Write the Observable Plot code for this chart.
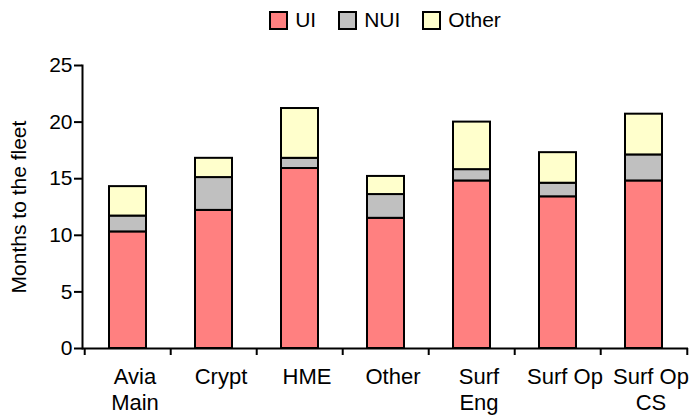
<!DOCTYPE html>
<html>
<head>
<meta charset="utf-8">
<script src="https://cdn.jsdelivr.net/npm/d3@7"></script>
<script src="https://cdn.jsdelivr.net/npm/@observablehq/plot@0.6"></script>
<style>
  body { margin: 0; background: #fff; font-family: "Liberation Sans", Arial, sans-serif; overflow: hidden; }
  #legend { height: 40px; margin-left: 82px; width: 606px; display: flex; justify-content: center; align-items: center; font-size: 21px; color: #000; }
  .item { display: flex; align-items: center; margin: 0 11px; }
  .sw { width: 15px; height: 15px; border: 2px solid #000; margin-right: 7px; }
</style>
</head>
<body>
<div id="legend"></div>
<div id="chart"></div>
<script>
const categories = ["Avia Main", "Crypt", "HME", "Other", "Surf Eng", "Surf Op", "Surf Op CS"];
const tickLabels = ["Avia\nMain", "Crypt", "HME", "Other", "Surf\nEng", "Surf Op", "Surf Op\nCS"];
const series = ["UI", "NUI", "Other"];
const colors = ["#FF8080", "#C0C0C0", "#FFFFCC"];
const uiValues    = [10.3, 12.2, 15.9, 11.5, 14.8, 13.4, 14.8];
const nuiValues   = [1.4, 2.9, 0.9, 2.1, 1.0, 1.2, 2.3];
const otherValues = [2.6, 1.7, 4.4, 1.6, 4.2, 2.7, 3.6];
const yTicks = [0, 5, 10, 15, 20, 25];

const seriesValues = [uiValues, nuiValues, otherValues];
const data = [];
categories.forEach((c, i) => {
  series.forEach((s, j) => data.push({category: c, series: s, value: seriesValues[j][i]}));
});

const width = 696, height = 377;
const marginLeft = 82, marginRight = 8;
const step = (width - marginLeft - marginRight) / categories.length;

const legend = document.getElementById("legend");
series.forEach((s, j) => {
  const it = document.createElement("div");
  it.className = "item";
  it.innerHTML = `<span class="sw" style="background:${colors[j]}"></span><span>${s}</span>`;
  legend.appendChild(it);
});

const chart = Plot.plot({
  width, height,
  marginTop: 25, marginBottom: 69, marginLeft, marginRight,
  style: {fontFamily: "'Liberation Sans', Arial, sans-serif", fontSize: "21px", color: "#000", background: "#fff", overflow: "visible"},
  x: {domain: categories, paddingInner: 0.57, paddingOuter: 0.285},
  y: {domain: [0, 25]},
  color: {domain: series, range: colors},
  marks: [
    Plot.barY(data, {x: "category", y: "value", fill: "series", stroke: "#000", strokeWidth: 2}),
    Plot.ruleY([0], {stroke: "#000", strokeWidth: 2}),
    Plot.frame({anchor: "left", stroke: "#000", strokeWidth: 2}),
    Plot.ruleX(categories, {x: d => d, y1: 0, y2: 0, insetBottom: -7, dx: -step / 2, stroke: "#000", strokeWidth: 2}),
    Plot.ruleX(categories.slice(-1), {x: d => d, y1: 0, y2: 0, insetBottom: -7, dx: step / 2, stroke: "#000", strokeWidth: 2}),
    Plot.axisY({ticks: yTicks, tickSize: 8, tickPadding: 2, strokeWidth: 2, label: "Months to the fleet", labelAnchor: "center", labelArrow: "none", labelOffset: 71, fontSize: 21}),
    Plot.axisX({tickSize: 0, tickPadding: 18, dx: 7, tickFormat: d => tickLabels[categories.indexOf(d)], lineHeight: 1.15, label: null, fontSize: 22})
  ]
});
document.getElementById("chart").appendChild(chart);
</script>
</body>
</html>
